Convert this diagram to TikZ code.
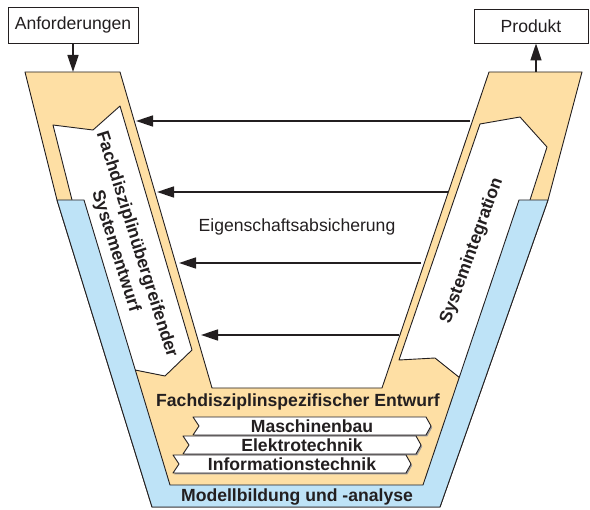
\documentclass[tikz,border=0pt]{standalone}
\usepackage{fontspec}
\setmainfont{Liberation Sans}
\usetikzlibrary{arrows.meta}
\definecolor{phasefill}{HTML}{FEDFA4}
\definecolor{modelfill}{HTML}{BEE3F7}
\definecolor{ink}{HTML}{231F20}

\begin{document}
\begin{tikzpicture}[x=1pt,y=-1pt,
  outline/.style={draw=ink,line width=0.9pt,line join=round},
  phase/.style={outline,fill=phasefill},
  model/.style={outline,fill=modelfill},
  strip/.style={outline,fill=white},
  discbar/.style={outline,fill=white},
  barshadow/.style={fill=ink!45,draw=none},
  lbl/.style={font=\fontsize{17.6}{22}\selectfont,text=ink,inner sep=0pt},
  blbl/.style={font=\fontsize{17.6}{22}\selectfont\bfseries,text=ink,inner sep=0pt},
  iobox/.style={lbl,draw=ink,line width=0.9pt,fill=white},
  conn/.style={draw=ink,line width=1.5pt,-{Triangle[length=17pt,width=11pt]}}
]
\useasboundingbox (0,0) rectangle (590,510);

% input and output boxes
\node[iobox,minimum width=130pt,minimum height=36pt] (req) at (73,25) {Anforderungen};
\node[iobox,minimum width=114pt,minimum height=34pt] (prod) at (531,26) {Produkt};

% V-shaped phase area
\filldraw[phase] (25,72) -- (120,72) -- (212,388) -- (382,388) -- (489,72)
  -- (582,72) -- (548,200) -- (440,507) -- (152,507) -- (57,200) -- cycle;

% descending and ascending process strips
\filldraw[strip] (53,125) -- (93,130) -- (120,106) -- (192,350) -- (165,376)
  -- (135,370) -- (100,300) -- (72,200) -- cycle;
\filldraw[strip] (480,124) -- (520,117) -- (547,147) -- (530,200) -- (470,386)
  -- (435,358) -- (399,360) -- cycle;

% modelling band around the V
\filldraw[model] (57,200) -- (84,200) -- (170,485) -- (423,485) -- (519,200)
  -- (548,200) -- (440,507) -- (152,507) -- cycle;

% discipline bars with a light drop shadow
\foreach \bx/\by in {193/417,183/436,173/455}{
  \fill[barshadow] (\bx+1.2,\by+1.5) -- ++(233,0) -- ++(5,9) -- ++(-5,9) -- ++(-233,0) -- ++(6,-9) -- cycle;
  \filldraw[discbar] (\bx,\by) -- ++(233,0) -- ++(5,9) -- ++(-5,9) -- ++(-233,0) -- ++(6,-9) -- cycle;
}
\node[blbl] (mech) at (312,426) {Maschinenbau};
\node[blbl] (elec) at (302,445) {Elektrotechnik};
\node[blbl] (info) at (292,464) {Informationstechnik};

% labels
\node[blbl,rotate=-72.5,align=center] (design) at (126,248) {Fachdisziplinübergreifender\\Systementwurf};
\node[blbl,rotate=70] (integ) at (472,251) {Systemintegration};
\node[lbl] (verif) at (297,227) {Eigenschaftsabsicherung};
\node[blbl] (domain) at (298,402) {Fachdisziplinspezifischer Entwurf};
\node[blbl] (modlbl) at (297,497) {Modellbildung und -analyse};

% connection points on the phase area
\coordinate (reqin) at (73,72);
\coordinate (prodout) at (536,72);
\coordinate (r1) at (470,121); \coordinate (l1) at (136,121);
\coordinate (r2) at (448,192); \coordinate (l2) at (157,192);
\coordinate (r3) at (421,263); \coordinate (l3) at (179,263);
\coordinate (r4) at (399,335); \coordinate (l4) at (201,335);

\draw[conn] (req.south) -- (reqin);
\draw[conn] (prodout) -- (prodout |- prod.south);
\draw[conn] (r1) -- (l1);
\draw[conn] (r2) -- (l2);
\draw[conn] (r3) -- (l3);
\draw[conn] (r4) -- (l4);
\end{tikzpicture}
\end{document}
